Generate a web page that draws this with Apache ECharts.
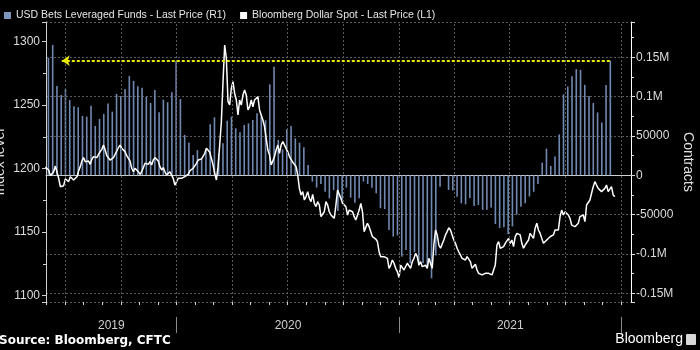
<!DOCTYPE html>
<html><head><meta charset="utf-8">
<script src="https://cdn.jsdelivr.net/npm/echarts@6/dist/echarts.min.js"></script>
<style>html,body{margin:0;padding:0;background:#000}#c{width:700px;height:350px}</style>
</head><body><div id="c"></div>
<script>
// ---------- data ----------
const legendNames = ['USD Bets Leveraged Funds - Last Price (R1)', 'Bloomberg Dollar Spot - Last Price (L1)'];
const axisStart = '2019-05-31';
const axisEnd = '2022-01-17';

// CFTC weekly net positioning (contracts), weekly from barStart
const barStart = '2019-06-04';
const barStepDays = 7;
const positioning = [
 149600,165800,113600,102200,109800,95800,87800,86500,75500,74600,
 88600,62800,71700,78000,91200,81000,103500,100900,109800,126400,
 120000,113200,111500,100000,92000,108500,80100,96200,92900,105600,
 145400,97000,51300,41600,25900,32000,20000,32000,65000,73800,
 28000,40700,69500,74600,59800,54700,64000,66100,70300,78900,
 75000,70000,115700,138000,45000,33000,58500,62700,47000,41500,
 35600,13100,-8100,-15700,-11000,-20800,-29300,-18700,-45400,-31400,
 -15700,-28400,-34800,-29300,-8000,-11000,-15700,-22900,-42000,-43000,
 -69600,-78000,-76500,-103500,-95000,-112000,-98000,-115000,-112000,-117000,
 -131000,-102000,-14500,1000,-18700,-19500,-27200,-35600,-37000,-28800,
 -39000,-37700,-44000,-44000,-41000,-62000,-67000,-66000,-75000,-65000,
 -50000,-40000,-35600,-27000,-21000,-11000,16000,34000,12000,24000,
 52000,103000,113000,126000,135000,134000,115000,101000,92000,80000,
 67000,115000,145800
];

// Bloomberg Dollar Spot index, sampled every lineStepDays from lineStart
const lineStart = '2019-05-30';
const lineStepDays = 2.73;
const dollarIndex = [
 1201.3,1200.8,1198.9,1194.5,1193.7,1197.6,1202.1,1202.4,1192.4,1185.8,
 1186.6,1186.6,1191.9,1192.4,1189.8,1193.7,1195.0,1191.1,1189.8,1193.7,
 1198.2,1201.6,1206.0,1208.7,1205.5,1204.7,1206.0,1203.4,1207.4,1209.5,
 1210.2,1208.7,1211.3,1213.4,1215.2,1218.6,1214.7,1210.2,1209.5,1206.8,
 1207.6,1208.7,1208.1,1213.9,1216.5,1218.6,1216.0,1214.7,1213.4,1210.2,
 1208.1,1206.0,1200.3,1197.6,1200.3,1199.0,1197.6,1195.5,1197.6,1200.8,
 1204.2,1205.5,1203.4,1205.5,1202.9,1206.8,1208.7,1209.5,1206.0,1201.6,
 1199.0,1200.8,1197.6,1195.0,1196.3,1197.6,1196.3,1192.4,1187.1,1188.5,
 1192.4,1193.7,1192.4,1191.9,1193.7,1195.0,1195.5,1198.2,1199.2,
 1200.3,1199.7,1204.2,1206.8,1206.0,1207.6,1208.1,1212.1,1216.0,1214.7,
 1212.9,1208.1,1202.9,1196.3,1191.1,1201.6,1218.6,1237.0,1268.5,1297.4,
 1286.9,1252.8,1250.1,1263.3,1268.5,1259.3,1254.1,1242.3,1254.1,1250.1,
 1258.0,1261.9,1258.0,1246.2,1248.8,1254.1,1248.8,1254.1,1255.4,1256.7,
 1246.2,1242.3,1238.3,1233.1,1223.9,1214.7,1210.8,1202.9,1204.2,1209.5,
 1214.7,1218.6,1212.1,1218.6,1221.3,1221.8,1216.0,1213.4,1209.5,1210.8,
 1205.0,1206.0,1201.6,1195.0,1184.5,1179.3,1181.9,1175.3,1178.0,1181.9,
 1176.6,1174.0,1179.8,1172.7,1170.1,1174.0,1171.4,1162.2,1161.4,1166.1,
 1174.0,1171.4,1166.1,1163.5,1162.2,1160.9,1171.4,1183.2,
 1184.5,1176.6,1172.7,1174.0,1170.1,1163.5,1167.4,1168.8,1166.1,1162.2,
 1159.6,1160.9,1167.4,1172.7,1166.1,1150.4,1151.7,1157.0,1154.3,1150.4,
 1146.4,1147.8,1144.6,1142.5,1134.6,1130.7,1132.0,1130.7,1132.0,1129.4,
 1121.5,1124.1,1128.1,1125.5,1121.5,1118.9,1114.2,1124.1,1125.5,1120.2,
 1121.5,1125.5,1124.1,1121.5,1126.8,1129.4,1133.3,1130.7,1124.1,1126.8,
 1122.8,1122.8,1124.1,1121.5,1129.4,1130.7,1121.5,1139.9,1151.7,1147.8,
 1139.9,1137.3,1138.6,1143.8,1147.8,1150.4,1153.5,1151.7,1147.8,1143.8,
 1141.2,1137.3,1134.6,1132.0,1129.4,1130.7,1128.1,1130.7,1132.0,1126.8,
 1121.5,1120.2,1124.7,1120.2,1117.6,1118.4,1116.3,1116.8,
 1117.6,1116.3,1117.6,1116.8,1116.3,1117.6,1124.1,1139.9,1142.5,1137.3,
 1136.0,1138.6,1141.2,1139.9,1145.1,1141.2,1143.8,1138.6,1146.4,1149.1,
 1150.4,1147.8,1141.2,1137.3,1139.9,1141.2,1143.8,1149.1,1147.8,1145.1,
 1153.0,1157.0,1151.7,1149.1,1145.1,1141.2,1139.9,1143.8,1145.1,1146.4,
 1145.7,1147.8,1151.7,1153.0,1151.7,1162.2,1167.4,1163.5,1166.1,1167.4,
 1163.5,1160.9,1155.6,1154.3,1154.3,1153.0,1157.0,1162.2,1160.9,1163.5,
 1158.3,1171.4,1172.7,1175.3,1180.6,1185.8,1189.8,1187.1,1184.5,1185.8,
 1181.9,1180.6,1184.5,1187.1,1181.9,1181.9,1185.8,1179.3,1178.0
];

// marker: last reading traced back to the previous time it was that high
const arrowFrom = '2019-06-26';

// axis ranges
const leftMin = 1095, leftMax = 1315.5;
const rightMin = -161200, rightMax = 195000;

// axis decorations
const yearStarts = ['2020-01-01', '2021-01-01', '2022-01-01'];
const yearLabels = ['2019', '2020', '2021'];
const quarterLines = ['2019-07-01','2019-10-01','2020-01-01','2020-04-01','2020-07-01',
  '2020-10-01','2021-01-01','2021-04-01','2021-07-01','2021-10-01','2022-01-01'];

// ---------- build ----------
const DAY = 86400000;
const ts = s => new Date(s + 'T00:00:00Z').getTime();
const xMin = ts(axisStart), xMax = ts(axisEnd);
const b0 = ts(barStart);
const barData = positioning.map((v, i) => [b0 + i * barStepDays * DAY, v]);
const l0 = ts(lineStart);
const lineData = dollarIndex.map((v, i) => [l0 + i * lineStepDays * DAY, v]);
const lastBar = barData[barData.length - 1];

// monthly ticks
const monthTicks = [];
for (let y = 2019; y <= 2022; y++) for (let m = 0; m < 12; m++) {
  const t = Date.UTC(y, m, 1);
  if (t >= xMin && t <= xMax) monthTicks.push(t);
}
const yb = yearStarts.map(ts);
const yearMids = [(xMin + yb[0]) / 2, (yb[0] + yb[1]) / 2, (yb[1] + yb[2]) / 2];

const FONT = '"Liberation Sans", Arial, sans-serif';
const fmtR = v => Math.abs(v) >= 100000 ? (v / 1e6) + 'M' : String(v);
const GRIDLINE = {color: '#5a5a5a', type: [2, 2], width: 1};
const YELLOW = {color: '#e8e800', type: [3, 2], width: 2};

// markLine items: quarterly dashed verticals (full height) + yellow "highest since" marker
const markItems = quarterLines.map(d => [
  {coord: [ts(d), rightMin], symbol: 'none', lineStyle: GRIDLINE},
  {coord: [ts(d), rightMax], symbol: 'none'}
]);
markItems.push([
  {coord: [ts(arrowFrom), lastBar[1]], symbol: 'arrow', symbolSize: 8, lineStyle: YELLOW},
  {coord: [lastBar[0], lastBar[1]], symbol: 'none'}
]);

const chart = echarts.init(document.getElementById('c'), null, {renderer: 'canvas'});
chart.setOption({
  backgroundColor: '#000',
  animation: false,
  textStyle: {fontFamily: FONT},
  legend: {
    left: -1, top: 5, itemWidth: 7, itemHeight: 7, itemGap: 14, icon: 'rect',
    data: [{name: legendNames[0], itemStyle: {color: '#7c95bd'}}, {name: legendNames[1], itemStyle: {color: '#fff'}}],
    textStyle: {color: '#e6e6e6', fontSize: 10.5, fontFamily: FONT}
  },
  grid: {left: 46, right: 69, top: 22, bottom: 48, containLabel: false, outerBoundsMode: 'none'},
  xAxis: [{
    type: 'value', min: xMin, max: xMax, scale: true,
    axisLine: {show: true, lineStyle: {color: '#cfcfcf', width: 1}},
    axisTick: {show: false},
    axisLabel: {show: false},
    splitLine: {show: false}
  }, {
    // year band
    type: 'value', min: xMin, max: xMax, scale: true, position: 'bottom', offset: 15,
    axisLine: {show: false},
    axisTick: {show: true, customValues: yb, length: 16, lineStyle: {color: '#8a8a8a'}},
    axisLabel: {show: true, customValues: yearMids, margin: 3, color: '#d0d0d0', fontSize: 12,
      formatter: v => yearLabels[yearMids.findIndex(m => Math.abs(m - v) < DAY)] || ''},
    splitLine: {show: false}
  }, {
    // monthly ticks
    type: 'value', min: xMin, max: xMax, scale: true, position: 'bottom',
    axisLine: {show: false},
    axisTick: {show: true, customValues: monthTicks, length: 3, lineStyle: {color: '#cfcfcf'}},
    axisLabel: {show: false},
    splitLine: {show: false}
  }],
  yAxis: [{
    type: 'value', position: 'left', min: leftMin, max: leftMax, splitNumber: 4,
    name: 'Index level', nameLocation: 'middle', nameGap: 39, nameRotate: 90, nameMoveOverlap: false,
    nameTextStyle: {color: '#e0e0e0', fontSize: 14, fontFamily: FONT},
    axisLine: {show: true, lineStyle: {color: '#cfcfcf'}},
    axisTick: {show: true, length: 4, lineStyle: {color: '#cfcfcf'}},
    minorTick: {show: true, splitNumber: 2, length: 3, lineStyle: {color: '#cfcfcf'}},
    axisLabel: {color: '#dcdcdc', fontSize: 12, margin: 6, showMinLabel: false, showMaxLabel: false,
      formatter: v => String(v)},
    splitLine: {show: false}
  }, {
    type: 'value', position: 'right', min: rightMin, max: rightMax, splitNumber: 7,
    name: 'Contracts', nameLocation: 'middle', nameGap: 50, nameRotate: -90, nameMoveOverlap: false,
    nameTextStyle: {color: '#e0e0e0', fontSize: 14, fontFamily: FONT},
    axisLine: {show: true, lineStyle: {color: '#ffffff'}},
    axisTick: {show: true, length: 4, lineStyle: {color: '#dcdcdc'}},
    minorTick: {show: true, splitNumber: 2, length: 3, lineStyle: {color: '#dcdcdc'}},
    axisLabel: {color: '#dcdcdc', fontSize: 12, margin: 5, formatter: fmtR, showMinLabel: false, showMaxLabel: false},
    splitLine: {show: true, lineStyle: GRIDLINE}
  }],
  series: [{
    name: legendNames[0], type: 'bar', xAxisIndex: 0, yAxisIndex: 1, z: 2,
    data: barData, barWidth: 1.6, itemStyle: {color: '#7189b1'},
    markLine: {silent: true, symbol: 'none', label: {show: false}, lineStyle: GRIDLINE, data: markItems}
  }, {
    name: legendNames[1], type: 'line', xAxisIndex: 0, yAxisIndex: 0,
    data: lineData, showSymbol: false, symbol: 'none', z: 3,
    lineStyle: {color: '#ffffff', width: 1.5}, itemStyle: {color: '#ffffff'}
  }],
  graphic: [
    {type: 'text', left: -1, top: 335, style: {text: 'Source: Bloomberg, CFTC', fill: '#ffffff', font: 'bold 12px "DejaVu Sans", sans-serif'}},
    {type: 'text', right: 17, top: 332, style: {text: 'Bloomberg', fill: '#ffffff', font: '14px "Liberation Sans", Arial, sans-serif'}},
    {type: 'rect', right: 4, top: 334, shape: {width: 10, height: 11, r: 1}, style: {fill: '#d8d8d8'}}
  ]
});
</script></body></html>
